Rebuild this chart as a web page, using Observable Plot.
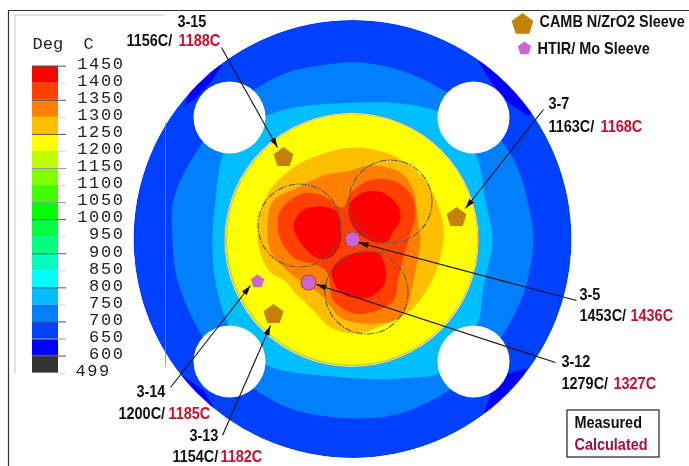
<!DOCTYPE html>
<html>
<head>
<meta charset="utf-8">
<script src="https://cdn.jsdelivr.net/npm/d3@7"></script>
<script src="https://cdn.jsdelivr.net/npm/@observablehq/plot@0.6"></script>
<style>
html,body{margin:0;padding:0;background:#fff;overflow:hidden}
svg{display:block;filter:blur(0.35px)}
</style>
</head>
<body>
<div id="chart"></div>
<script>
// Legend
const legendLabels = ["1450","1400","1350","1300","1250","1200","1150","1100","1050","1000","950","900","850","800","750","700","650","600","499"];
const legendColors = ["#ff0000","#ff4000","#ff8000","#ffbf00","#ffff00","#bfff00","#80ff00","#40ff00","#00ff00","#00ff40","#00ff80","#00ffbf","#00ffff","#00bfff","#0080ff","#0040ff","#0000ff","#333333"];
const darkTicks = ["1450","1350","1250","1000","900","800","700","600"];
const midTicks = ["1150","1050","650"];

// Disk geometry (read in picture units)
const disk = {x:352, y:238.5, r:219};
const core = {x:351, y:239.5, r:126};
const holes = [{x:229,y:117},{x:473,y:117},{x:229,y:361},{x:473,y:361}];
const pins = [{x:299,y:225},{x:390,y:201},{x:366,y:292}];

// Contour bands
const wedge650 = [
 [[183,106],[195,98],[210,82],[222,64],[205,68],[190,90]],
 [[477,60],[493,85],[509,103],[527,115],[540,110],[510,70]],
 [[180,374],[203,390],[215,410],[200,408],[185,390]],
 [[527,368],[507,373],[490,394],[483,413],[510,400]]
];
const band750 = [[202,142],[180,180],[172,205],[172,240],[177,280],[200,333],[225,365],[253,388],[287,407],[320,415],[360,418],[400,413],[445,392],[478,365],[503,333],[523,293],[533,240],[527,200],[517,167],[502,142],[470,110],[440,88],[400,70],[360,62],[320,65],[287,72],[253,90],[225,115]];
const band800 = [[222,155],[215,200],[212,240],[214,275],[223,312],[240,345],[267,365],[293,372],[320,375],[360,378],[400,378],[445,370],[477,323],[483,286],[492,240],[485,200],[475,153],[445,115],[400,103],[360,102],[320,104],[293,107],[266,115],[235,130]];
const band1300 = [[357,147],[397,157],[427,183],[442,220],[443,240],[433,277],[410,310],[377,327],[357,333],[330,327],[313,310],[297,295],[285,281],[268,270],[258,245],[258,223],[267,193],[293,167],[323,153]];
const band1350 = [[350,170],[370,165],[400,172],[413,190],[417,217],[420,240],[415,270],[405,310],[393,320],[363,323],[340,317],[323,297],[310,287],[290,273],[270,250],[267,223],[273,200],[297,187],[323,175]];
const band1400 = [[350,193],[368,180],[392,180],[410,193],[415,213],[409,237],[403,257],[398,277],[393,300],[370,312],[353,313],[333,300],[327,273],[317,265],[293,257],[278,233],[280,210],[302,193],[322,195],[342,207]];
const lobesRed = [
 [[293,225],[302,210],[318,206],[335,210],[339,218],[340,242],[330,257],[318,258],[302,245]],
 [[350,202],[363,192],[382,192],[397,205],[400,218],[392,232],[385,242],[365,238],[352,225],[348,212]],
 [[332,268],[343,257],[358,252],[378,253],[385,268],[383,285],[368,297],[345,295],[333,282]]
];

// Measurements
const cambSites = [{x:283,y:157},{x:456,y:217},{x:273,y:314}];
const htirSites = [{x:257,y:281},{x:352,y:239,ring:true},{x:308,y:282,ring:true}];
const leaders = [
 {x1:221,y1:47,x2:277,y2:147},
 {x1:543,y1:109,x2:465,y2:208},
 {x1:576,y1:300,x2:358,y2:242},
 {x1:555,y1:362,x2:316,y2:284},
 {x1:170,y1:387,x2:250,y2:285},
 {x1:222,y1:435,x2:270,y2:325}
];
const tcNames = ["3-15","3-7","3-5","3-12","3-14","3-13"];
const measured = ["1156C/","1163C/","1453C/","1279C/","1200C/","1154C/"];
const calculated = ["1188C","1168C","1436C","1327C","1185C","1182C"];
const nameAt = [[177,21],[548,103],[579,294],[561,361],[136,391],[189,435]];
const valueAt = [[126,40],[548,126],[579,315],[561,383],[118,413],[172,456]];
const calcX = [178,600,630,613,168,220];

const rows = tcNames.map((n,i)=>({name:n,m:measured[i],c:calculated[i],nx:nameAt[i][0],ny:nameAt[i][1],vx:valueAt[i][0],vy:valueAt[i][1],cx:calcX[i]}));

const pentagon = {draw(ctx,size){
  const R = Math.sqrt(size/Math.PI);
  for(let i=0;i<5;i++){
    const a = -Math.PI/2 + i*2*Math.PI/5;
    const px = R*Math.cos(a), py = R*Math.sin(a);
    i ? ctx.lineTo(px,py) : ctx.moveTo(px,py);
  }
  ctx.closePath();
}};

const arrowHead = (color)=>{
  const ns = "http://www.w3.org/2000/svg";
  const m = document.createElementNS(ns,"marker");
  m.setAttribute("viewBox","-5 -5 10 10");
  m.setAttribute("markerUnits","userSpaceOnUse");
  m.setAttribute("markerWidth",10);
  m.setAttribute("markerHeight",10);
  m.setAttribute("orient","auto");
  m.setAttribute("refX",5);
  m.setAttribute("refY",0);
  const p = document.createElementNS(ns,"path");
  p.setAttribute("d","M-5,-3L5,0L-5,3Z");
  p.setAttribute("fill",color);
  p.setAttribute("stroke","none");
  m.appendChild(p);
  return m;
};

const sans = "'Liberation Sans',Arial,sans-serif";
const mono = "'Liberation Mono','DejaVu Sans Mono',monospace";
const barTop = 65.7, step = 17.05, barL = 32, barR = 58, tickR = 66;
const legendCells = legendColors.map((c,i)=>({c,y1:barTop+i*step,y2:barTop+(i+1)*step}));
const legendRows = legendLabels.map((l,i)=>({l,y:barTop+i*step}));

const shape = (pts,fill)=>Plot.line(pts,{x:d=>d[0],y:d=>d[1],fill,stroke:"none",curve:"catmull-rom-closed"});
const circle = (c,o)=>Plot.dot([c],{x:"x",y:"y",r:c.r,...o});
const label = {textAnchor:"start",fontFamily:sans,fontWeight:"bold"};

const marks = [
  circle(disk,{fill:"#0040ff",stroke:"none"}),
  ...wedge650.map(w=>Plot.line(w,{x:d=>d[0],y:d=>d[1],fill:"#0000ff",stroke:"none",curve:"linear-closed"})),
  shape(band750,"#0080ff"),
  shape(band800,"#00bfff"),
  circle({x:disk.x,y:disk.y,r:disk.r+15},{fill:"none",stroke:"#fff",strokeWidth:30}),
  Plot.dot(holes,{x:"x",y:"y",r:36,fill:"#fff",stroke:"none"}),
  circle({x:core.x,y:core.y,r:core.r+1.3},{fill:"#fff",stroke:"#888",strokeWidth:0.8}),
  circle(core,{fill:"#c4f000",stroke:"#999",strokeWidth:0.5}),
  circle({x:core.x+0.7,y:core.y-0.7,r:core.r-1},{fill:"#ffff00",stroke:"none"}),
  shape(band1300,"#ffbf00"),
  shape(band1350,"#ff8000"),
  shape(band1400,"#ff4000"),
  ...lobesRed.map(l=>shape(l,"#ff0000")),
  Plot.dot(pins,{x:"x",y:"y",r:41.5,fill:"none",stroke:"#5a5a5a",strokeWidth:1.1,strokeDasharray:"7,1.5,1.5,1.5"}),
  // frame
  Plot.ruleY([10],{x1:8,x2:689,stroke:"#333",strokeWidth:1.2}),
  Plot.ruleX([8],{y1:10,y2:466,stroke:"#333",strokeWidth:1.2}),
  Plot.ruleY([14.5],{x1:14.5,x2:165,stroke:"#c8c8c8",strokeWidth:1}),
  Plot.ruleX([14.5],{y1:14.5,y2:374,stroke:"#c8c8c8",strokeWidth:1}),
  Plot.ruleX([165],{y1:122,y2:367,stroke:"#7f8ca8",strokeWidth:1,strokeOpacity:0.8}),
  // colour bar
  Plot.rect(legendCells,{x1:barL,x2:barR,y1:"y1",y2:"y2",fill:"c"}),
  Plot.ruleY(legendRows.filter(d=>darkTicks.includes(d.l)),{y:"y",x1:barL,x2:tickR,stroke:"#555",strokeWidth:1}),
  Plot.ruleY(legendRows.filter(d=>midTicks.includes(d.l)),{y:"y",x1:barL,x2:tickR,stroke:"#999",strokeWidth:1}),
  Plot.ruleY(legendRows.filter(d=>!darkTicks.includes(d.l)&&!midTicks.includes(d.l)),{y:"y",x1:barR,x2:tickR,stroke:"#d8d8d8",strokeWidth:1}),
  Plot.text(["Deg  C"],{x:32,y:43,text:d=>d,textAnchor:"start",fontFamily:mono,fontSize:17,fill:"#222"}),
  Plot.text(legendRows.filter(d=>d.l!=="499"),{x:124,y:d=>d.y-2.7,text:"l",textAnchor:"end",fontFamily:mono,fontSize:17,fill:"#222"}),
  Plot.text(legendRows.filter(d=>d.l==="499"),{x:75,y:d=>d.y-2.7,text:"l",textAnchor:"start",fontFamily:mono,fontSize:17,fill:"#222"}),
  // sites & leaders
  Plot.dot(htirSites.filter(d=>d.ring),{x:"x",y:"y",r:7.5,fill:"#cc66cc",stroke:"#a0504a",strokeWidth:1.2}),
  Plot.link(leaders,{x1:"x1",y1:"y1",x2:"x2",y2:"y2",stroke:"#111",strokeWidth:1.1,markerEnd:arrowHead}),
  Plot.dot(cambSites,{x:"x",y:"y",r:10.5,symbol:pentagon,fill:"#c4820a",stroke:"none"}),
  Plot.dot(htirSites,{x:"x",y:"y",r:7,symbol:pentagon,fill:"#cc66cc",stroke:"none"}),
  // labels
  Plot.text(rows,{x:"nx",y:"ny",text:"name",fontSize:17,fill:"#111",...label}),
  Plot.text(rows,{x:"vx",y:"vy",text:"m",fontSize:17,fill:"#111",...label}),
  Plot.text(rows,{x:"cx",y:"vy",text:"c",fontSize:17,fill:"#c8102e",...label}),
  // site legend
  Plot.dot([{x:522,y:24}],{x:"x",y:"y",r:11.5,symbol:pentagon,fill:"#c4820a",stroke:"none"}),
  Plot.dot([{x:524,y:48}],{x:"x",y:"y",r:7,symbol:pentagon,fill:"#cc66cc",stroke:"none"}),
  Plot.text(["CAMB N/ZrO2 Sleeve"],{x:539,y:21,text:d=>d,fontSize:17,fill:"#111",...label}),
  Plot.text(["HTIR/ Mo Sleeve"],{x:537,y:48,text:d=>d,fontSize:17,fill:"#111",...label}),
  // key box
  Plot.rect([{}],{x1:567,x2:659,y1:410,y2:457,fill:"#fff",stroke:"#222",strokeWidth:1.2}),
  Plot.text(["Measured"],{x:574,y:422,text:d=>d,fontSize:17,fill:"#111",...label}),
  Plot.text(["Calculated"],{x:574,y:444,text:d=>d,fontSize:17,fill:"#a01040",...label})
];

const chart = Plot.plot({
  width:689,height:466,margin:0,
  x:{domain:[0,689],axis:null},
  y:{domain:[466,0],axis:null},
  marks
});
document.getElementById("chart").append(chart);

// Condense the labels (no narrow face is installed) and space the colour-bar digits
chart.querySelectorAll("text").forEach(t=>{
  const s = t.textContent;
  if (legendLabels.includes(s)) { t.style.letterSpacing = "1.6px"; return; }
  if (s.startsWith("Deg")) return;
  t.setAttribute("textLength",(t.getComputedTextLength()*0.85).toFixed(1));
  t.setAttribute("lengthAdjust","spacingAndGlyphs");
});
</script>
</body>
</html>
